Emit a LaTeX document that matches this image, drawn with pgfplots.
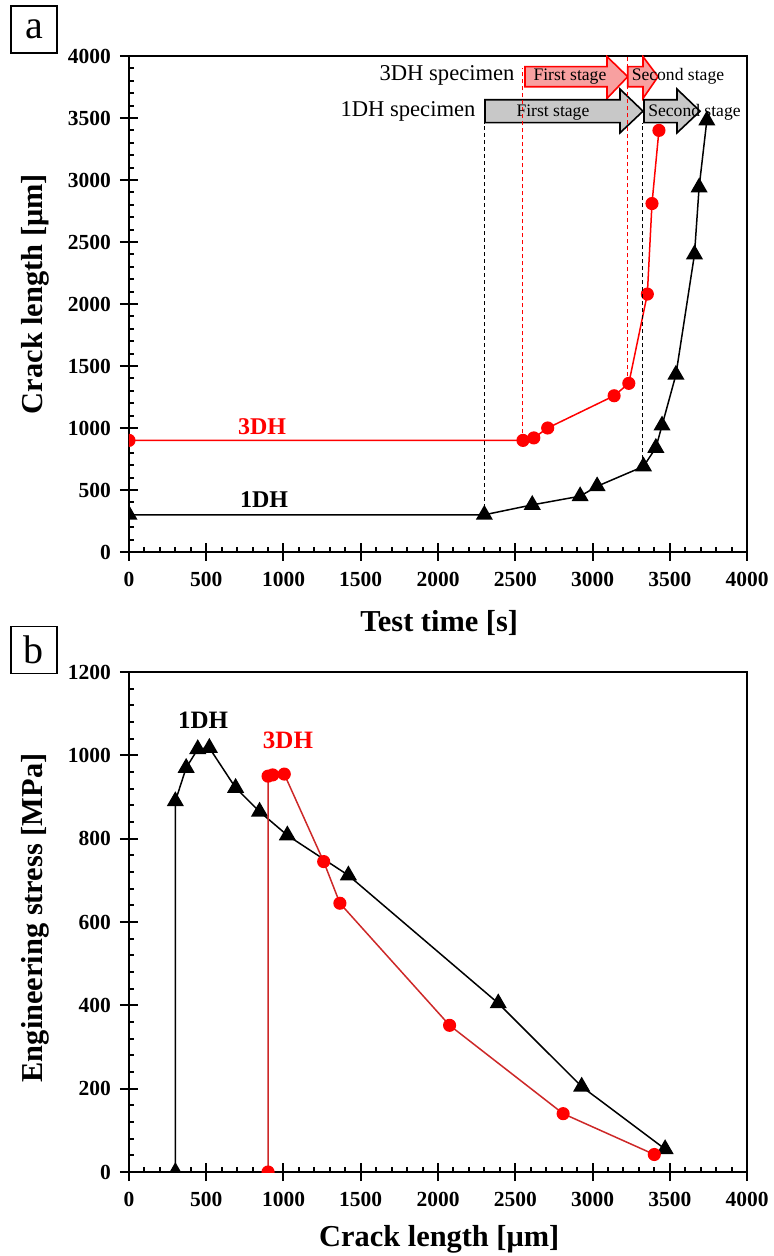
\documentclass[border=0pt]{standalone}
\usepackage{fontspec}
\setmainfont{Liberation Serif}
\usepackage{pgfplots}
\pgfplotsset{compat=1.18}
\definecolor{myred}{RGB}{255,0,0}
\definecolor{redline}{RGB}{205,40,40}
\definecolor{arrowred}{RGB}{248,160,160}
\definecolor{arrowgrey}{RGB}{200,200,200}
\newcommand{\labfont}{\bfseries\fontsize{15.2}{17}\selectfont}
\pgfplotsset{
  myaxis/.style={
    scale only axis, width=309pt,
    xmin=0, xmax=4000, xtick={0,500,...,4000},
    minor x tick num=4, minor y tick num=4,
    xtick pos=bottom, ytick pos=left,
    tick align=inside,
    major tick length=4.5pt, minor tick length=2.5pt,
    extra x ticks={0,500,...,4000}, extra x tick labels={},
    extra x tick style={tick align=outside},
    axis line style={line width=1.2pt},
    every tick/.style={black, line width=1pt},
    tick label style={font=\bfseries\fontsize{10.75}{12}\selectfont},
    /pgf/number format/assume math mode=true,
    /pgf/number format/set thousands separator={},
    scaled ticks=false,
    clip marker paths=true,
    xticklabel style={yshift=-6.5pt},
    yticklabel style={xshift=-5.5pt},
  },
  s1/.style={black, line width=0.75pt, mark=triangle*, mark size=4.2pt, mark options={solid, fill=black}},
  s3/.style={line width=0.75pt, mark=*, mark size=2.9pt, mark options={solid, fill=myred, draw=myred}},
}
\begin{document}
\begin{tikzpicture}
\path[use as bounding box] (-64.5pt,-352pt) rectangle (322.5pt,276pt);
% panel label boxes
\node[draw, line width=0.6pt, minimum width=23pt, minimum height=23.5pt, inner sep=0pt, font=\fontsize{20}{20}\selectfont] at (-47.5pt,261.25pt) {a};
\node[draw, line width=0.6pt, minimum width=23pt, minimum height=23.5pt, inner sep=0pt, font=\fontsize{20}{20}\selectfont] at (-47.5pt,-49pt) {b};

\begin{axis}[myaxis, at={(0pt,0pt)}, anchor=south west, height=248pt,
  ymin=0, ymax=4000, ytick={0,500,...,4000},
  extra y ticks={0,500,...,4000}, extra y tick labels={},
  extra y tick style={tick align=outside},
  every axis y label/.style={at={(axis description cs:-0.152,0.52)}, rotate=90, anchor=center, font=\labfont},
  every axis x label/.style={at={(axis description cs:0.502,-0.143)}, anchor=center, font=\labfont},
  xlabel={Test time [s]}, ylabel={Crack length [μm]}]
\addplot[s1] coordinates {(0,300) (2300,300) (2610,380) (2920,450) (3030,530) (3330,690) (3410,840) (3450,1020) (3540,1430) (3660,2400) (3690,2940) (3740,3480)};
\addplot[s3, myred] coordinates {(0,900) (2550,900) (2620,920) (2710,1000) (3140,1260) (3235,1360) (3355,2080) (3385,2810) (3430,3400)};
% stage arrows (3DH)
\draw[myred, line width=0.8pt, fill=arrowred] (axis cs:2563,3752) -- (axis cs:3094,3752) -- (axis cs:3094,3658) -- (axis cs:3228,3833) -- (axis cs:3094,3995) -- (axis cs:3094,3914) -- (axis cs:2563,3914) -- cycle;
\draw[myred, line width=0.8pt, fill=arrowred] (axis cs:3228,3752) -- (axis cs:3327,3752) -- (axis cs:3327,3658) -- (axis cs:3424,3833) -- (axis cs:3327,3995) -- (axis cs:3327,3914) -- (axis cs:3228,3914) -- cycle;
% stage arrows (1DH)
\draw[black, line width=0.8pt, fill=arrowgrey] (axis cs:2304,3463) -- (axis cs:3178,3463) -- (axis cs:3178,3380) -- (axis cs:3327,3555) -- (axis cs:3178,3733) -- (axis cs:3178,3647) -- (axis cs:2304,3647) -- cycle;
\draw[black, line width=0.8pt, fill=arrowgrey] (axis cs:3333,3463) -- (axis cs:3547,3463) -- (axis cs:3547,3380) -- (axis cs:3696,3555) -- (axis cs:3547,3733) -- (axis cs:3547,3647) -- (axis cs:3333,3647) -- cycle;
% dashed guide lines
\draw[black, line width=0.45pt, dash pattern=on 2pt off 1.5pt] (axis cs:2300,300) -- (axis cs:2300,3463);
\draw[black, line width=0.45pt, dash pattern=on 2pt off 1.5pt] (axis cs:3325,690) -- (axis cs:3325,3463);
\draw[draw=myred, line width=0.5pt, dash pattern=on 2pt off 1.5pt] (axis cs:2550,900) -- (axis cs:2550,3905);
\draw[draw=myred, line width=0.5pt, dash pattern=on 2pt off 1.5pt] (axis cs:3227,1360) -- (axis cs:3227,3995);
% texts
\node[anchor=east, font=\fontsize{11.3}{12}\selectfont, inner sep=0pt] at (axis cs:2498,3840) {3DH specimen};
\node[anchor=east, font=\fontsize{11.3}{12}\selectfont, inner sep=0pt] at (axis cs:2245,3555) {1DH specimen};
\node[font=\fontsize{8.8}{10}\selectfont, inner sep=0pt] at (axis cs:2854,3835) {First stage};
\node[font=\fontsize{8.8}{10}\selectfont, inner sep=0pt] at (axis cs:3553,3840) {Second stage};
\node[font=\fontsize{8.8}{10}\selectfont, inner sep=0pt] at (axis cs:2744,3540) {First stage};
\node[font=\fontsize{8.8}{10}\selectfont, inner sep=0pt] at (axis cs:3660,3548) {Second stage};
\node[font=\bfseries\fontsize{12}{12}\selectfont, text=myred] at (axis cs:861,1008) {3DH};
\node[font=\bfseries\fontsize{12}{12}\selectfont] at (axis cs:874,419) {1DH};
\end{axis}

\begin{axis}[myaxis, at={(0pt,-310pt)}, anchor=south west, height=250pt,
  ymin=0, ymax=1200, ytick={0,200,...,1200},
  extra y ticks={0,200,...,1200}, extra y tick labels={},
  extra y tick style={tick align=outside},
  every axis y label/.style={at={(axis description cs:-0.152,0.508)}, rotate=90, anchor=center, font=\labfont},
  every axis x label/.style={at={(axis description cs:0.502,-0.135)}, anchor=center, font=\labfont},
  xlabel={Crack length [μm]}, ylabel={Engineering stress [MPa]}]
\addplot[s1] coordinates {(300,0) (300,890) (370,970) (445,1015) (520,1018) (690,922) (845,865) (1025,808) (1420,712) (2390,405) (2930,205) (3470,55)};
\addplot[s3, redline] coordinates {(900,0) (900,950) (930,953) (1005,955) (1260,745) (1365,645) (2075,352) (2810,140) (3400,42)};
\node[font=\bfseries\fontsize{12.5}{12.5}\selectfont] at (axis cs:479,1084) {1DH};
\node[font=\bfseries\fontsize{12.5}{12.5}\selectfont, text=myred] at (axis cs:1029,1036) {3DH};
\end{axis}
\end{tikzpicture}
\end{document}
